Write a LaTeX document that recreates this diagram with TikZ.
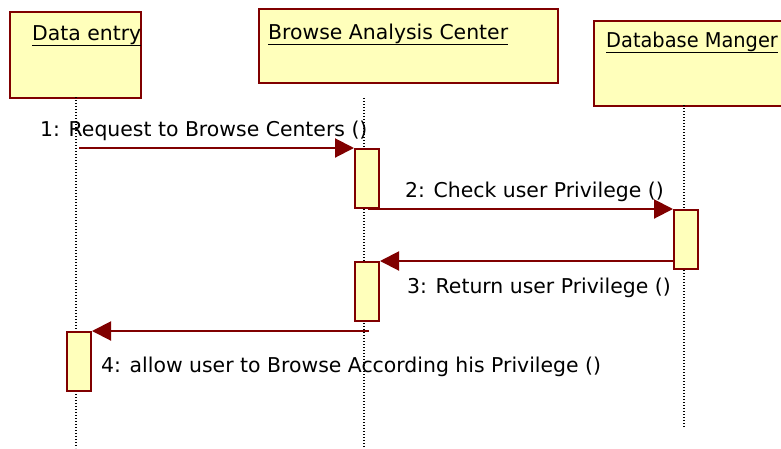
\documentclass[tikz,border=0pt]{standalone}
\usepackage{fontspec}
\setmainfont{DejaVu Sans}
\usetikzlibrary{arrows.meta}
\definecolor{umlred}{HTML}{800000}
\definecolor{umlfill}{HTML}{FFFFBB}
\tikzset{
  objbox/.style={draw=umlred, fill=umlfill, line width=2pt, inner sep=0pt, anchor=north west},
  actbox/.style={draw=umlred, fill=umlfill, line width=2pt, inner sep=0pt, minimum width=24pt, minimum height=59pt, anchor=north west},
  lifeline/.style={draw=black, line width=1.3pt, dash pattern=on 1.3pt off 1.7pt},
  msg/.style={draw=umlred, line width=2pt, -{Triangle[length=19pt,width=19pt]}},
  lbl/.style={inner sep=0pt, anchor=base west, font=\fontsize{20.4}{22}\selectfont, text=black}
}
\begin{document}
\begin{tikzpicture}[x=1pt,y=-1pt]
\clip (0,0) rectangle (781,448);
\fill[white] (0,0) rectangle (781,448);
% objects
\node[objbox, minimum width=131pt, minimum height=86pt] (h1) at (9,11) {};
\node[objbox, minimum width=299pt, minimum height=74pt] (h2) at (258,8) {};
\node[objbox, minimum width=220pt, minimum height=85pt] (h3) at (593,20) {};
\node[lbl] (t1) at (32,40) {\underline{Data entry}};
\node[lbl] (t2) at (268,39) {\underline{Browse Analysis Center}};
\node[lbl] (t3) at (606,47) {\scalebox{0.95}[1]{\underline{Database Manger}}};
% lifelines
\coordinate (l1a) at (76,97);  \coordinate (l1b) at (76,448);
\coordinate (l2a) at (364,98); \coordinate (l2b) at (364,448);
\coordinate (l3a) at (684,105); \coordinate (l3b) at (684,428);
\draw[lifeline] (l1a) -- (l1b);
\draw[lifeline] (l2a) -- (l2b);
\draw[lifeline] (l3a) -- (l3b);
% activations
\node[actbox] (a1) at (354,148) {};
\node[actbox] (a2) at (673,209) {};
\node[actbox] (a3) at (354,261) {};
\node[actbox] (a4) at (66,331) {};
% messages
\coordinate (m1s) at (79,148);
\coordinate (m2s) at (368,209);
\coordinate (m4s) at (369,331);
\draw[msg] (m1s) -- (a1.north west);
\draw[msg] (m2s) -- (a2.north west);
\draw[msg] (a2.west |- a3.north east) -- (a3.north east);
\draw[msg] (m4s) -- (a4.north east);
% labels
\node[lbl] (n1) at (40,136) {1: Request to Browse Centers ()};
\node[lbl] (n2) at (405,197) {2: Check user Privilege ()};
\node[lbl] (n3) at (407,293) {3: Return user Privilege ()};
\node[lbl] (n4) at (101,372) {4: allow user to Browse According his Privilege ()};
\end{tikzpicture}
\end{document}
